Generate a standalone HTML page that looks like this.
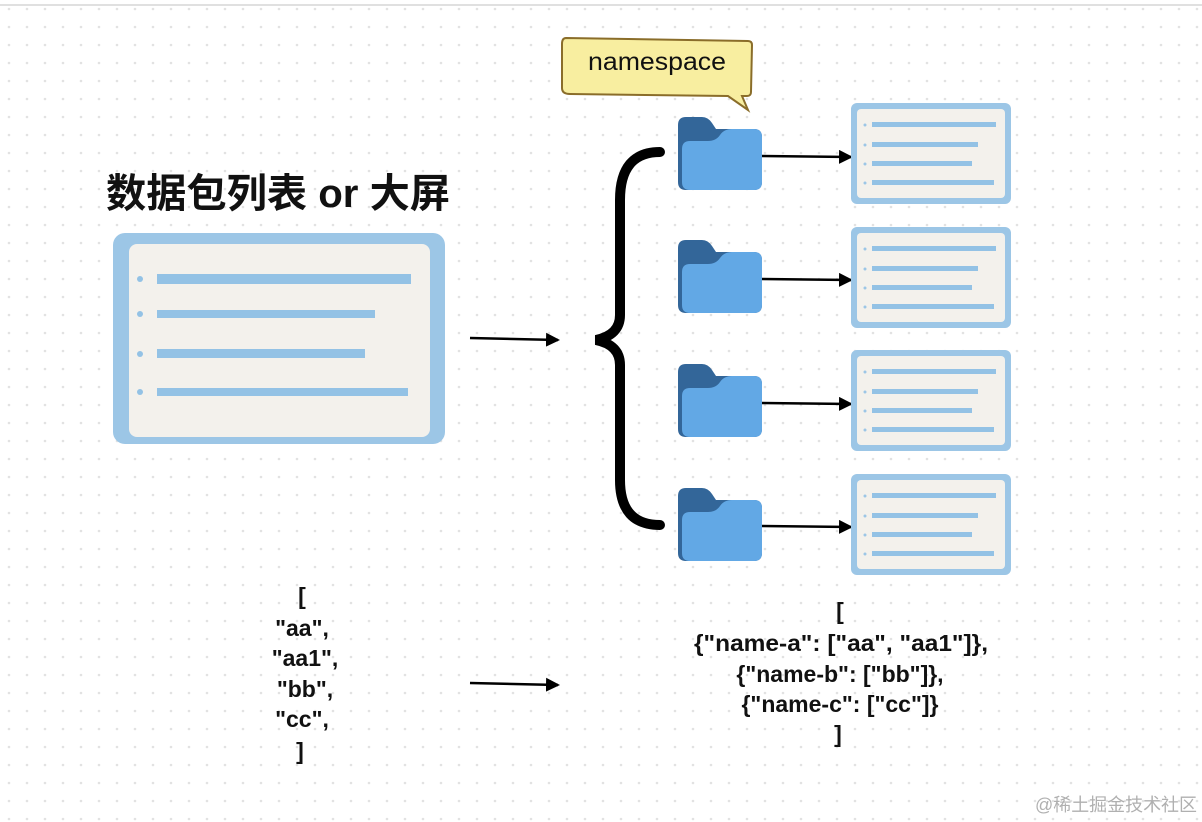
<!DOCTYPE html>
<html><head><meta charset="utf-8"><style>
html,body{margin:0;padding:0;background:#fff;}
svg{display:block;}
text{font-family:"Liberation Sans","Noto Sans CJK SC",sans-serif;}
</style></head><body>
<svg width="1202" height="822" viewBox="0 0 1202 822" xmlns="http://www.w3.org/2000/svg">
<defs>
<pattern id="dots" width="18" height="18" patternUnits="userSpaceOnUse">
<circle cx="9" cy="9" r="1.3" fill="#e2e2e2"/>
</pattern>
<marker id="ah" markerWidth="14" markerHeight="14" refX="12" refY="7" orient="auto" markerUnits="userSpaceOnUse">
<path d="M0,0 L14,7 L0,14 Z" fill="#000"/>
</marker>
<g id="folder">
<path d="M0,8 Q0,0 8,0 L24,0 Q30,0 34,6 L38,12 L76,12 Q84,12 84,20 L84,65 Q84,73 76,73 L8,73 Q0,73 0,65 Z" fill="#336699"/>
<path d="M4,32 Q4,24 12,24 L30,24 Q38,24 42,18 Q46,12 54,12 L76,12 Q84,12 84,20 L84,65 Q84,73 76,73 L12,73 Q4,73 4,65 Z" fill="#62a8e5"/>
</g>
<g id="card">
<rect x="0" y="0" width="160" height="101" rx="6" fill="#9cc6e6"/>
<rect x="6" y="6" width="148" height="89" rx="4" fill="#f3f1ec"/>
<circle cx="14" cy="22" r="1.5" fill="#9cc6e6"/><rect x="21" y="19" width="124" height="5" fill="#93c2e5"/>
<circle cx="14" cy="42" r="1.5" fill="#9cc6e6"/><rect x="21" y="39" width="106" height="5" fill="#93c2e5"/>
<circle cx="14" cy="61" r="1.5" fill="#9cc6e6"/><rect x="21" y="58" width="100" height="5" fill="#93c2e5"/>
<circle cx="14" cy="80" r="1.5" fill="#9cc6e6"/><rect x="21" y="77" width="122" height="5" fill="#93c2e5"/>
</g>
</defs>
<rect width="1202" height="822" fill="url(#dots)"/>
<line x1="0" y1="5" x2="1202" y2="5" stroke="#e0e0e0" stroke-width="2"/>

<text x="106" y="207" font-size="40" font-weight="bold" fill="#111" textLength="344" lengthAdjust="spacingAndGlyphs">数据包列表 or 大屏</text>

<rect x="113" y="233" width="332" height="211" rx="12" fill="#9cc6e6"/>
<rect x="129" y="244" width="301" height="193" rx="8" fill="#f3f1ec"/>
<circle cx="140" cy="279" r="3" fill="#93c2e5"/><rect x="157" y="274" width="254" height="10" fill="#93c2e5"/>
<circle cx="140" cy="314" r="3" fill="#93c2e5"/><rect x="157" y="310" width="218" height="8" fill="#93c2e5"/>
<circle cx="140" cy="354" r="3" fill="#93c2e5"/><rect x="157" y="349" width="208" height="9" fill="#93c2e5"/>
<circle cx="140" cy="392" r="3" fill="#93c2e5"/><rect x="157" y="388" width="251" height="8" fill="#93c2e5"/>

<line x1="470" y1="338" x2="558" y2="340" stroke="#000" stroke-width="2.5" marker-end="url(#ah)"/>
<line x1="470" y1="683" x2="558" y2="685" stroke="#000" stroke-width="2.5" marker-end="url(#ah)"/>

<path d="M660,152 Q620,152 620,200 L620,315 Q620,335 596,340 Q620,345 620,365 L620,480 Q620,525 660,525" fill="none" stroke="#000" stroke-width="10" stroke-linecap="round"/>

<path d="M566,38 L748,41 Q752,41 752,45 L751,92 Q751,96 747,96 L742,96 L748,110 L728,96 L570,94 Q562,94 562,88 L562,44 Q562,38 566,38 Z" fill="#f8eea0" stroke="#8a6d2a" stroke-width="2"/>
<text x="588" y="70" font-size="25" fill="#111" textLength="138" lengthAdjust="spacingAndGlyphs">namespace</text>

<use href="#folder" x="678" y="117"/>
<use href="#folder" x="678" y="240"/>
<use href="#folder" x="678" y="364"/>
<use href="#folder" x="678" y="488"/>

<line x1="762" y1="156" x2="851" y2="157" stroke="#000" stroke-width="2.5" marker-end="url(#ah)"/>
<line x1="762" y1="279" x2="851" y2="280" stroke="#000" stroke-width="2.5" marker-end="url(#ah)"/>
<line x1="762" y1="403" x2="851" y2="404" stroke="#000" stroke-width="2.5" marker-end="url(#ah)"/>
<line x1="762" y1="526" x2="851" y2="527" stroke="#000" stroke-width="2.5" marker-end="url(#ah)"/>

<use href="#card" x="851" y="103"/>
<use href="#card" x="851" y="227"/>
<use href="#card" x="851" y="350"/>
<use href="#card" x="851" y="474"/>

<g font-size="23" font-weight="bold" fill="#111" text-anchor="middle">
<text x="302" y="604">[</text>
<text x="302" y="636">"aa",</text>
<text x="305" y="666">"aa1",</text>
<text x="305" y="697">"bb",</text>
<text x="302" y="727">"cc",</text>
<text x="300" y="759">]</text>
<text x="840" y="619">[</text>
<text x="841" y="651" textLength="294" lengthAdjust="spacingAndGlyphs">{"name-a": ["aa", "aa1"]},</text>
<text x="840" y="682">{"name-b": ["bb"]},</text>
<text x="840" y="712">{"name-c": ["cc"]}</text>
<text x="838" y="742">]</text>
</g>

<text x="1035" y="811" font-size="18" fill="#b0b0b0" textLength="162" lengthAdjust="spacingAndGlyphs">@稀土掘金技术社区</text>
</svg>
</body></html>
